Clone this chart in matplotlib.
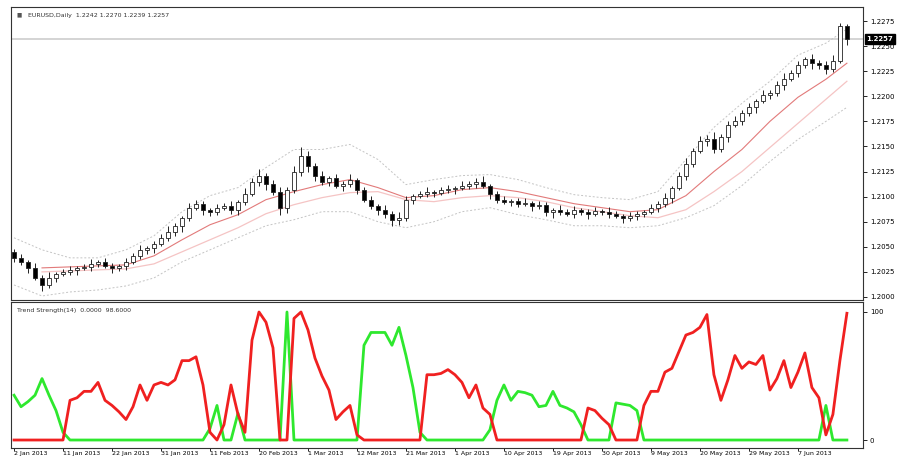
import matplotlib
matplotlib.use("Agg")
import matplotlib.pyplot as plt
import matplotlib.transforms as mtransforms

# texts of the chart
symbol_text = "EURUSD,Daily  1.2242 1.2270 1.2239 1.2257"
indicator_text = "Trend Strength(14)  0.0000  98.6000"

# daily closes
first_open = 1.2045
closes = [1.2039, 1.2035, 1.2029, 1.2019, 1.2012, 1.2019, 1.2023, 1.2025, 1.2027, 1.2029,
          1.2030, 1.2033, 1.2035, 1.2031, 1.2029, 1.2031, 1.2035, 1.2041, 1.2047, 1.2049,
          1.2053, 1.2059, 1.2065, 1.2071, 1.2079, 1.2089, 1.2093, 1.2087, 1.2085, 1.2089,
          1.2091, 1.2087, 1.2095, 1.2103, 1.2115, 1.2121, 1.2113, 1.2105, 1.2089, 1.2107,
          1.2125, 1.2141, 1.2131, 1.2121, 1.2115, 1.2119, 1.2111, 1.2113, 1.2117, 1.2107,
          1.2097, 1.2091, 1.2087, 1.2083, 1.2077, 1.2079, 1.2097, 1.2101, 1.2103, 1.2105,
          1.2104, 1.2107, 1.2108, 1.2109, 1.2111, 1.2113, 1.2115, 1.2111, 1.2103, 1.2097,
          1.2095, 1.2096, 1.2093, 1.2094, 1.2091, 1.2092, 1.2085, 1.2087, 1.2085, 1.2083,
          1.2087, 1.2085, 1.2083, 1.2086, 1.2085, 1.2083, 1.2081, 1.2079, 1.2081, 1.2083,
          1.2085, 1.2089, 1.2093, 1.2099, 1.2109, 1.2121, 1.2133, 1.2145, 1.2155, 1.2157,
          1.2147, 1.2159, 1.2171, 1.2175, 1.2183, 1.2189, 1.2195, 1.2201, 1.2203, 1.2211,
          1.2217, 1.2223, 1.2231, 1.2237, 1.2233, 1.2231, 1.2227, 1.2235, 1.2270, 1.2257]
# wick lengths in pips
up_wick = [3, 4, 2, 5, 3, 6, 2, 3, 4, 2, 3, 5, 2, 4, 3, 2, 4, 3, 5, 2,
           3, 4, 6, 3, 2, 5, 4, 3, 2, 4, 3, 5, 2, 6, 4, 7, 3, 4, 5, 3,
           6, 8, 4, 3, 5, 2, 4, 3, 6, 2, 3, 4, 2, 5, 3, 6, 4, 2, 3, 5,
           2, 3, 4, 2, 5, 3, 4, 6, 2, 3, 4, 2, 3, 5, 2, 4, 3, 2, 5, 3,
           4, 2, 3, 4, 2, 5, 3, 2, 4, 3, 2, 4, 3, 5, 2, 4, 6, 3, 5, 4,
           7, 3, 4, 5, 3, 4, 2, 5, 3, 4, 6, 3, 4, 2, 5, 3, 4, 6, 3, 2]
dn_wick = [4, 3, 5, 2, 6, 3, 4, 2, 3, 5, 2, 4, 3, 2, 5, 3, 4, 2, 3, 4,
           5, 2, 3, 4, 6, 3, 2, 5, 4, 3, 2, 4, 5, 3, 2, 4, 6, 3, 7, 5,
           3, 4, 6, 5, 3, 4, 2, 5, 3, 4, 2, 3, 5, 4, 6, 5, 3, 4, 2, 3,
           4, 2, 3, 5, 2, 3, 4, 2, 5, 3, 2, 4, 3, 2, 5, 3, 4, 6, 3, 2,
           4, 3, 5, 2, 3, 4, 2, 5, 3, 4, 3, 2, 4, 3, 5, 2, 4, 3, 2, 5,
           4, 3, 5, 2, 4, 3, 6, 2, 4, 3, 5, 2, 4, 3, 6, 4, 5, 3, 2, 6]

# moving averages (every 4th bar)
ma_idx = [4, 8, 12, 16, 20, 24, 28, 32, 36, 40, 44, 48, 52, 56, 60, 64, 68, 72, 76, 80,
          84, 88, 92, 96, 100, 104, 108, 112, 116, 119]
ma_fast = [1.2029, 1.2030, 1.2031, 1.2032, 1.2041, 1.2057, 1.2072, 1.2082, 1.2097, 1.2105,
           1.2112, 1.2117, 1.2109, 1.2099, 1.2101, 1.2107, 1.2109, 1.2105, 1.2099, 1.2093,
           1.2089, 1.2085, 1.2087, 1.2101, 1.2125, 1.2147, 1.2175, 1.2199, 1.2217, 1.2233]
ma_slow = [1.2025, 1.2026, 1.2027, 1.2028, 1.2033, 1.2045, 1.2057, 1.2069, 1.2083, 1.2092,
           1.2099, 1.2104, 1.2105, 1.2097, 1.2095, 1.2099, 1.2101, 1.2099, 1.2095, 1.2089,
           1.2085, 1.2081, 1.2079, 1.2087, 1.2105, 1.2125, 1.2149, 1.2173, 1.2197, 1.2215]
band_idx = [0] + ma_idx
band_up = [1.2059, 1.2047, 1.2039, 1.2039, 1.2047, 1.2061, 1.2085, 1.2101, 1.2109, 1.2129,
           1.2147, 1.2147, 1.2152, 1.2137, 1.2112, 1.2117, 1.2121, 1.2122, 1.2117, 1.2109,
           1.2102, 1.2099, 1.2097, 1.2105, 1.2137, 1.2169, 1.2193, 1.2215, 1.2241, 1.2253, 1.2267]
band_dn = [1.2012, 1.2001, 1.2005, 1.2007, 1.2011, 1.2019, 1.2035, 1.2047, 1.2059, 1.2071,
           1.2077, 1.2085, 1.2085, 1.2075, 1.2069, 1.2075, 1.2085, 1.2089, 1.2082, 1.2077,
           1.2071, 1.2071, 1.2069, 1.2071, 1.2079, 1.2091, 1.2111, 1.2135, 1.2157, 1.2175, 1.2189]

# lower indicator, two lines
red_line = [0, 0, 0, 0, 0, 0, 0, 0, 31, 33, 38, 38, 45, 31, 27, 22, 16, 26, 43, 31,
            43, 45, 43, 47, 62, 62, 65, 43, 6, 0, 12, 43, 20, 6, 78, 100, 92, 72, 0, 0,
            95, 100, 86, 64, 50, 39, 16, 22, 27, 4, 0, 0, 0, 0, 0, 0, 0, 0, 0, 51,
            51, 52, 55, 51, 45, 33, 43, 25, 20, 0, 0, 0, 0, 0, 0, 0, 0, 0, 0, 0,
            0, 0, 25, 23, 17, 12, 0, 0, 0, 0, 27, 38, 38, 53, 56, 69, 82, 84, 88, 98,
            51, 31, 47, 66, 56, 61, 59, 66, 39, 48, 62, 41, 53, 68, 41, 33, 4, 20, 62, 99]
green_line = [35, 26, 30, 35, 48, 35, 23, 6, 0, 0, 0, 0, 0, 0, 0, 0, 0, 0, 0, 0,
              0, 0, 0, 0, 0, 0, 0, 0, 9, 27, 0, 0, 21, 0, 0, 0, 0, 0, 0, 100,
              0, 0, 0, 0, 0, 0, 0, 0, 0, 0, 74, 84, 84, 84, 74, 88, 66, 41, 6, 0,
              0, 0, 0, 0, 0, 0, 0, 0, 8, 31, 43, 31, 38, 37, 35, 26, 27, 38, 27, 25,
              22, 12, 0, 0, 0, 0, 29, 28, 27, 23, 0, 0, 0, 0, 0, 0, 0, 0, 0, 0,
              0, 0, 0, 0, 0, 0, 0, 0, 0, 0, 0, 0, 0, 0, 0, 0, 27, 0, 0, 0]

date_idx = [0, 7, 14, 21, 28, 35, 42, 49, 56, 63, 70, 77, 84, 91, 98, 105, 112]
date_labels = ["2 Jan 2013", "11 Jan 2013", "22 Jan 2013", "31 Jan 2013", "11 Feb 2013",
               "20 Feb 2013", "1 Mar 2013", "12 Mar 2013", "21 Mar 2013", "1 Apr 2013",
               "10 Apr 2013", "19 Apr 2013", "30 Apr 2013", "9 May 2013", "20 May 2013",
               "29 May 2013", "7 Jun 2013"]
price_ticks = [1.2000, 1.2025, 1.2050, 1.2075, 1.2100, 1.2125, 1.2150, 1.2175,
               1.2200, 1.2225, 1.2250, 1.2275]
ind_ticks = [0, 100]


def main():
    plt.rcParams['font.family'] = ['DejaVu Sans']
    fig = plt.figure(figsize=(9.03, 4.58), dpi=100)
    ax = fig.add_axes([0.0122, 0.345, 0.9435, 0.6397])
    ax2 = fig.add_axes([0.0122, 0.0218, 0.9435, 0.3188], sharex=ax)

    n = len(closes)
    idx = list(range(n))
    opens = [first_open] + closes[:-1]
    highs = [max(o, c) + w / 10000 for o, c, w in zip(opens, closes, up_wick)]
    lows = [min(o, c) - w / 10000 for o, c, w in zip(opens, closes, dn_wick)]

    # bid line
    ax.axhline(closes[-1], color='#d4d4d4', lw=1.4, zorder=1)

    # bands and averages (faint, like the reference)
    ax.plot(band_idx, band_up, color='#c4c4c4', lw=0.7, ls=(0, (2, 2)), zorder=2)
    ax.plot(band_idx, band_dn, color='#c4c4c4', lw=0.7, ls=(0, (2, 2)), zorder=2)
    ax.plot(ma_idx, ma_slow, color='#f5c4c4', lw=0.9, zorder=2)
    ax.plot(ma_idx, ma_fast, color='#e27a7a', lw=0.8, zorder=2)

    # candles
    ax.vlines(idx, lows, highs, color='#222222', lw=0.7, zorder=3)
    bottoms = [min(o, c) for o, c in zip(opens, closes)]
    heights = [max(abs(c - o), 0.00005) for o, c in zip(opens, closes)]
    colors = ['white' if c >= o else 'black' for o, c in zip(opens, closes)]
    ax.bar(idx, heights, bottom=bottoms, width=0.5, color=colors,
           edgecolor='#222222', linewidth=0.6, zorder=4)

    ax.set_xlim(-0.43, 121.3)
    ax.set_ylim(1.1997, 1.2289)
    ax.yaxis.tick_right()
    ax.set_yticks(price_ticks)
    ax.set_yticklabels(["%.4f" % p for p in price_ticks])
    ax.tick_params(axis='y', labelsize=5, length=3, width=0.6, pad=2)
    ax.tick_params(axis='x', bottom=False, labelbottom=False)
    ax.text(0.02, 0.972, symbol_text, transform=ax.transAxes, fontsize=4.5,
            va='center', ha='left', color='#333333')
    ax.text(0.006, 0.972, "\u25a0", transform=ax.transAxes, fontsize=4,
            va='center', ha='left', color='#555555')

    # current price box
    trans = mtransforms.blended_transform_factory(ax.transAxes, ax.transData)
    ax.text(1.004, closes[-1], "%.4f" % closes[-1], transform=trans, fontsize=5,
            color='white', va='center', ha='left', fontweight='bold',
            bbox=dict(boxstyle='square,pad=0.25', fc='black', ec='black'))

    # lower panel
    ax2.plot(idx, green_line, color='#2ee82e', lw=2.0, zorder=3)
    ax2.plot(idx, red_line, color='#f02020', lw=2.0, zorder=4)
    ax2.set_ylim(-6.25, 107.8)
    ax2.yaxis.tick_right()
    ax2.set_yticks(ind_ticks)
    ax2.set_yticklabels(["0", "100"])
    ax2.tick_params(axis='y', labelsize=5, length=3, width=0.6, pad=2)
    ax2.set_xticks(date_idx)
    ax2.set_xticklabels(date_labels, ha='left')
    ax2.tick_params(axis='x', labelsize=4.5, length=2, width=0.6, pad=0.5)
    ax2.text(0.007, 0.945, indicator_text, transform=ax2.transAxes, fontsize=4.5,
             va='center', ha='left', color='#333333')

    for a in (ax, ax2):
        for s in a.spines.values():
            s.set_color('#333333')
            s.set_linewidth(0.8)

    plt.savefig("out.png", dpi=100)
    plt.close()


if __name__ == '__main__':
    main()
